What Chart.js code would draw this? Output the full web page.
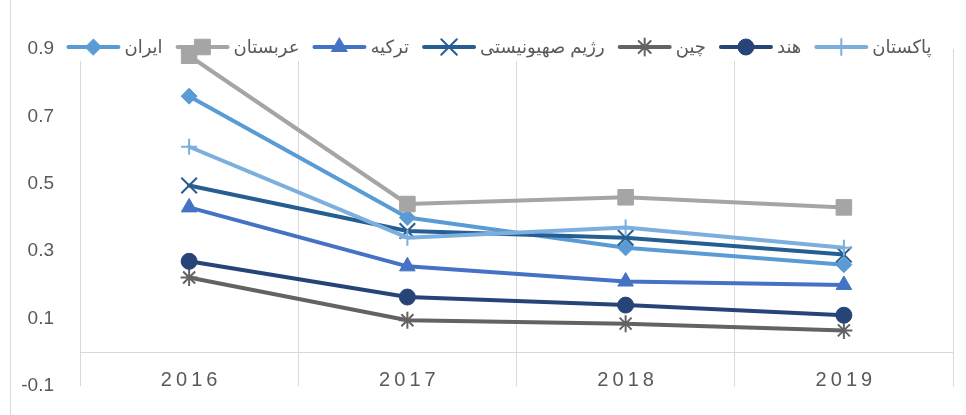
<!DOCTYPE html>
<html>
<head>
<meta charset="utf-8">
<script src="https://cdn.jsdelivr.net/npm/chart.js@4/dist/chart.umd.min.js"></script>
<style>
  html, body { margin: 0; padding: 0; background: #ffffff; }
  #wrap { width: 966px; height: 415px; position: relative; }
</style>
</head>
<body>
<div id="wrap"><canvas id="chart"></canvas></div>
<script>
// Categories and tick labels
const years = ['2016', '2017', '2018', '2019'];
const yTickLabels = ['-0.1', '0.1', '0.3', '0.5', '0.7', '0.9'];

// Series values
const iran     = [0.76, 0.40, 0.31, 0.26];
const arabia   = [0.88, 0.44, 0.46, 0.43];
const turkey   = [0.43, 0.255, 0.21, 0.20];
const israel   = [0.495, 0.36, 0.34, 0.29];
const china    = [0.222, 0.095, 0.085, 0.065];
const india    = [0.27, 0.164, 0.14, 0.11];
const pakistan = [0.61, 0.34, 0.37, 0.31];

const FONT = '"Liberation Sans", "DejaVu Sans", Arial, sans-serif';
const TEXT = '#595959';
const GRID = '#d9d9d9';

function series(label, data, color, style, radius, border) {
  return {
    label, data,
    borderColor: color,
    backgroundColor: color,
    pointBackgroundColor: color,
    pointBorderColor: color,
    pointStyle: style,
    pointRadius: radius,
    pointHoverRadius: radius,
    pointBorderWidth: border,
    borderWidth: 4,
    borderCapStyle: 'round',
    borderJoinStyle: 'round',
    tension: 0,
    fill: false
  };
}

const datasets = [
  series('ایران', iran, '#5B9BD5', 'rectRot', 8, 1),
  series('عربستان', arabia, '#A5A5A5', 'rect', 11, 1),
  series('ترکیه', turkey, '#4472C4', 'triangle', 9, 1),
  series('رژیم صهیونیستی', israel, '#255E91', 'crossRot', 11, 2),
  series('چین', china, '#636363', 'star', 8.5, 2),
  series('هند', india, '#264478', 'circle', 8, 1),
  series('پاکستان', pakistan, '#7CAFDD', 'cross', 8, 2)
];
// later series are painted above earlier ones
datasets.forEach((d, i) => { d.order = datasets.length - i; });

// Outer frame edge on the left
const frameEdge = {
  id: 'frameEdge',
  beforeDraw(chart) {
    const ctx = chart.ctx;
    ctx.save();
    ctx.strokeStyle = GRID;
    ctx.lineWidth = 1;
    ctx.beginPath();
    ctx.moveTo(10.5, 0);
    ctx.lineTo(10.5, chart.height);
    ctx.stroke();
    ctx.restore();
  }
};

// Legend with a short line sample and marker for each series
const lineLegend = {
  id: 'lineLegend',
  beforeDatasetsDraw(chart) {
    const ctx = chart.ctx;
    const sets = chart.data.datasets;
    ctx.save();
    ctx.font = '18px ' + FONT;
    const sampleW = 54, gapText = 4, gapItem = 13;
    const widths = sets.map(d => ctx.measureText(d.label).width);
    const total = widths.reduce((a, w) => a + sampleW + gapText + w, 0) + gapItem * (sets.length - 1);
    let x = 499 - total / 2;
    const y = 47;
    ctx.fillStyle = '#ffffff';
    ctx.fillRect(x - 4, 35, total + 8, 26);
    sets.forEach((d, i) => {
      ctx.strokeStyle = d.borderColor;
      ctx.lineWidth = 4;
      ctx.lineCap = 'round';
      ctx.beginPath();
      ctx.moveTo(x + 2, y);
      ctx.lineTo(x + sampleW - 2, y);
      ctx.stroke();
      ctx.fillStyle = d.pointBackgroundColor;
      ctx.strokeStyle = d.pointBorderColor;
      ctx.lineWidth = d.pointBorderWidth;
      Chart.helpers.drawPoint(ctx, {
        pointStyle: d.pointStyle, radius: d.pointRadius, rotation: 0, borderWidth: d.pointBorderWidth
      }, x + sampleW / 2, y);
      ctx.fillStyle = TEXT;
      ctx.textBaseline = 'middle';
      ctx.textAlign = 'left';
      ctx.fillText(d.label, x + sampleW + gapText, y + 1);
      x += sampleW + gapText + widths[i] + gapItem;
    });
    ctx.restore();
  }
};

new Chart(document.getElementById('chart'), {
  type: 'line',
  data: { labels: years, datasets },
  options: {
    responsive: true,
    maintainAspectRatio: false,
    animation: false,
    devicePixelRatio: 1,
    layout: { padding: { left: 20, right: 11, top: 49, bottom: 29 } },
    plugins: {
      legend: { display: false },
      tooltip: { enabled: false }
    },
    scales: {
      x: {
        type: 'category',
        position: { y: 0 },
        offset: true,
        afterFit: (s) => { s.height = 0; },
        grid: { display: true, offset: true, color: GRID, lineWidth: 1, drawTicks: false },
        border: { display: true, color: GRID, width: 1 },
        ticks: {
          color: TEXT,
          font: { family: FONT, size: 20 },
          padding: 16,
          maxRotation: 0,
          callback: (v, i) => years[i].split('').join('\u2009')
        }
      },
      y: {
        min: -0.1,
        max: 0.9,
        afterFit: (s) => { s.width = 60; },
        grid: {
          display: true, drawOnChartArea: false, drawTicks: true,
          tickLength: 9, color: 'rgba(0,0,0,0)'
        },
        border: { display: false },
        ticks: {
          stepSize: 0.2,
          color: TEXT,
          font: { family: FONT, size: 19 },
          padding: 17,
          callback: (v, i) => yTickLabels[i]
        }
      }
    }
  },
  plugins: [frameEdge, lineLegend]
});
</script>
</body>
</html>
